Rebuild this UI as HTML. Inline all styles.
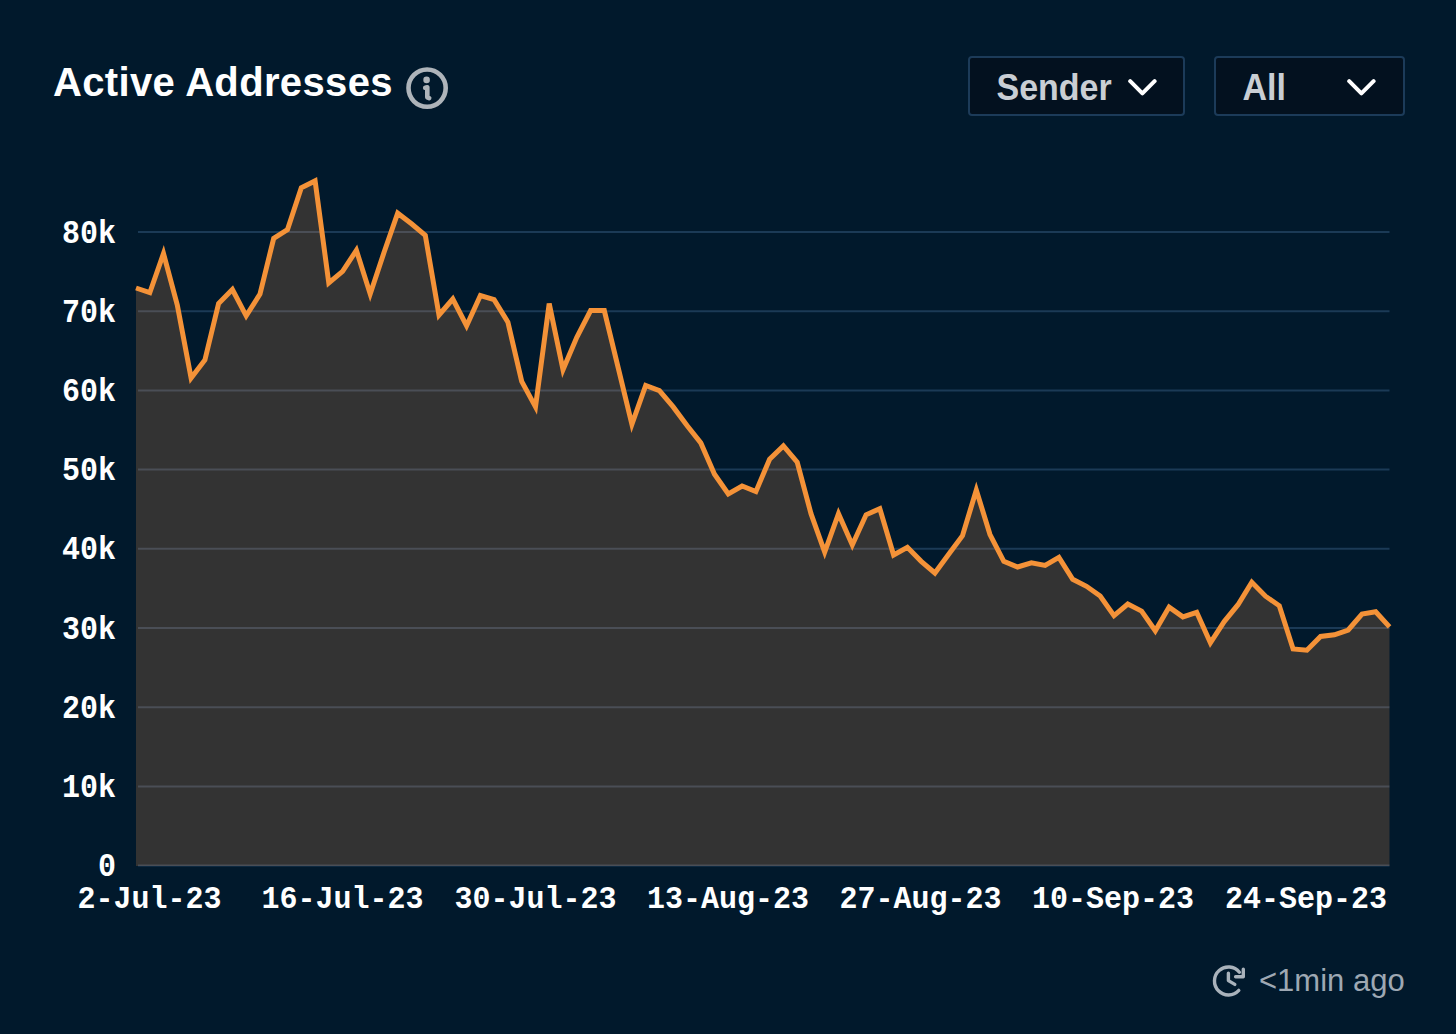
<!DOCTYPE html>
<html><head><meta charset="utf-8">
<style>
html,body{margin:0;padding:0;}
body{width:1456px;height:1034px;background:#01192c;position:relative;overflow:hidden;font-family:"Liberation Sans",sans-serif;}
.title{position:absolute;left:53px;top:58px;font-size:40px;font-weight:bold;color:#ffffff;letter-spacing:0.35px;line-height:48px;white-space:nowrap;}
.info{position:absolute;left:405px;top:66px;}
.dd{position:absolute;top:56px;height:60px;box-sizing:border-box;border:2px solid #1c3b59;border-radius:4px;background:#03111f;}
.dd .t{position:absolute;top:2px;line-height:57px;font-size:34px;font-weight:bold;color:#c9ced4;white-space:nowrap;overflow:hidden;transform:scaleY(1.1);transform-origin:0 43px;}
.dd svg{position:absolute;}
svg.chart{position:absolute;left:0;top:0;}
.yl{position:absolute;right:1340px;width:100px;text-align:right;font-family:"Liberation Mono",monospace;font-weight:bold;font-size:30px;line-height:32px;color:#ffffff;transform:scaleY(1.09);transform-origin:50% 24px;}
.xl{position:absolute;top:884px;width:200px;text-align:center;font-family:"Liberation Mono",monospace;font-weight:bold;font-size:30px;line-height:32px;color:#ffffff;transform:scaleY(1.06);transform-origin:50% 24px;}
.foot{position:absolute;left:1259px;top:963px;font-size:31px;color:#9ea8b3;line-height:36px;white-space:nowrap;}
.ficon{position:absolute;left:1200px;top:955px;}
</style></head><body>
<div class="title">Active Addresses</div>
<svg class="info" width="44" height="44" viewBox="0 0 44 44"><circle cx="22.1" cy="22.1" r="18.6" fill="none" stroke="#aeb4ba" stroke-width="4.6"/><circle cx="21.6" cy="13.9" r="3.3" fill="#aeb4ba"/><path d="M20.2 21.7 L22.3 21.3 L22.3 31.3 L24.2 32.1" fill="none" stroke="#aeb4ba" stroke-width="4.6" stroke-linejoin="round" stroke-linecap="round"/></svg>
<div class="dd" style="left:968px;width:217px;"><div class="t" style="left:26.5px;width:117.5px;">Sender</div>
<svg style="left:157.5px;top:20.6px" width="30" height="20" viewBox="0 0 30 20"><path d="M2.2 2.2 L14.4 14.4 L26.6 2.2" fill="none" stroke="#ffffff" stroke-width="4" stroke-linecap="round" stroke-linejoin="round"/></svg></div>
<div class="dd" style="left:1214px;width:191px;"><div class="t" style="left:26.5px;">All</div>
<svg style="left:131.4px;top:20.6px" width="30" height="20" viewBox="0 0 30 20"><path d="M2.2 2.2 L14.4 14.4 L26.6 2.2" fill="none" stroke="#ffffff" stroke-width="4" stroke-linecap="round" stroke-linejoin="round"/></svg></div>
<svg class="chart" width="1456" height="1034">
<defs><clipPath id="ca"><path d="M136,866 L136.0,288.0 L149.8,292.7 L163.5,253.5 L177.3,305.0 L191.1,378.0 L204.9,360.0 L218.6,303.4 L232.4,289.5 L246.2,315.8 L260.0,294.0 L273.7,238.3 L287.5,229.6 L301.3,187.8 L315.1,180.9 L328.8,283.0 L342.6,271.4 L356.4,250.3 L370.2,294.0 L383.9,252.8 L397.7,213.2 L411.5,223.8 L425.3,235.4 L439.0,315.0 L452.8,299.0 L466.6,325.7 L480.4,295.5 L494.1,299.7 L507.9,322.2 L521.7,381.4 L535.5,406.9 L549.2,303.6 L563.0,369.8 L576.8,337.3 L590.6,310.6 L604.3,310.6 L618.1,367.4 L631.9,424.3 L645.7,385.5 L659.4,390.6 L673.2,406.9 L687.0,425.5 L700.8,442.9 L714.5,474.2 L728.3,494.0 L742.1,486.0 L755.9,491.6 L769.6,459.2 L783.4,446.0 L797.2,462.2 L811.0,513.7 L824.7,552.0 L838.5,513.7 L852.3,545.0 L866.1,514.8 L879.8,508.6 L893.6,555.0 L907.4,547.3 L921.2,561.3 L934.9,573.0 L948.7,554.3 L962.5,535.7 L976.3,490.0 L990.0,534.6 L1003.8,561.3 L1017.6,567.0 L1031.4,562.8 L1045.1,565.4 L1058.9,557.4 L1072.7,579.3 L1086.5,586.3 L1100.2,596.0 L1114.0,615.7 L1127.8,604.1 L1141.6,611.1 L1155.3,630.8 L1169.1,607.1 L1182.9,616.9 L1196.7,612.3 L1210.4,642.8 L1224.2,621.6 L1238.0,604.7 L1251.8,582.3 L1265.5,596.2 L1279.3,605.7 L1293.1,648.9 L1306.9,650.2 L1320.6,636.5 L1334.4,634.8 L1348.2,630.0 L1362.0,614.1 L1375.7,611.7 L1389.5,626.9 L1389.5,866 Z"/></clipPath></defs>
<g stroke="#1b3a56" stroke-width="2"><line x1="138" x2="1389.5" y1="232.0" y2="232.0" /><line x1="138" x2="1389.5" y1="311.2" y2="311.2" /><line x1="138" x2="1389.5" y1="390.4" y2="390.4" /><line x1="138" x2="1389.5" y1="469.6" y2="469.6" /><line x1="138" x2="1389.5" y1="548.8" y2="548.8" /><line x1="138" x2="1389.5" y1="628.0" y2="628.0" /><line x1="138" x2="1389.5" y1="707.2" y2="707.2" /><line x1="138" x2="1389.5" y1="786.4" y2="786.4" /><line x1="138" x2="1389.5" y1="865.6" y2="865.6" /></g>
<path d="M136,866 L136.0,288.0 L149.8,292.7 L163.5,253.5 L177.3,305.0 L191.1,378.0 L204.9,360.0 L218.6,303.4 L232.4,289.5 L246.2,315.8 L260.0,294.0 L273.7,238.3 L287.5,229.6 L301.3,187.8 L315.1,180.9 L328.8,283.0 L342.6,271.4 L356.4,250.3 L370.2,294.0 L383.9,252.8 L397.7,213.2 L411.5,223.8 L425.3,235.4 L439.0,315.0 L452.8,299.0 L466.6,325.7 L480.4,295.5 L494.1,299.7 L507.9,322.2 L521.7,381.4 L535.5,406.9 L549.2,303.6 L563.0,369.8 L576.8,337.3 L590.6,310.6 L604.3,310.6 L618.1,367.4 L631.9,424.3 L645.7,385.5 L659.4,390.6 L673.2,406.9 L687.0,425.5 L700.8,442.9 L714.5,474.2 L728.3,494.0 L742.1,486.0 L755.9,491.6 L769.6,459.2 L783.4,446.0 L797.2,462.2 L811.0,513.7 L824.7,552.0 L838.5,513.7 L852.3,545.0 L866.1,514.8 L879.8,508.6 L893.6,555.0 L907.4,547.3 L921.2,561.3 L934.9,573.0 L948.7,554.3 L962.5,535.7 L976.3,490.0 L990.0,534.6 L1003.8,561.3 L1017.6,567.0 L1031.4,562.8 L1045.1,565.4 L1058.9,557.4 L1072.7,579.3 L1086.5,586.3 L1100.2,596.0 L1114.0,615.7 L1127.8,604.1 L1141.6,611.1 L1155.3,630.8 L1169.1,607.1 L1182.9,616.9 L1196.7,612.3 L1210.4,642.8 L1224.2,621.6 L1238.0,604.7 L1251.8,582.3 L1265.5,596.2 L1279.3,605.7 L1293.1,648.9 L1306.9,650.2 L1320.6,636.5 L1334.4,634.8 L1348.2,630.0 L1362.0,614.1 L1375.7,611.7 L1389.5,626.9 L1389.5,866 Z" fill="#333333"/>
<g stroke="#4a4e56" stroke-width="2" clip-path="url(#ca)"><line x1="138" x2="1389.5" y1="232.0" y2="232.0" /><line x1="138" x2="1389.5" y1="311.2" y2="311.2" /><line x1="138" x2="1389.5" y1="390.4" y2="390.4" /><line x1="138" x2="1389.5" y1="469.6" y2="469.6" /><line x1="138" x2="1389.5" y1="548.8" y2="548.8" /><line x1="138" x2="1389.5" y1="628.0" y2="628.0" /><line x1="138" x2="1389.5" y1="707.2" y2="707.2" /><line x1="138" x2="1389.5" y1="786.4" y2="786.4" /><line x1="138" x2="1389.5" y1="865.6" y2="865.6" /></g>
<polyline points="136.0,288.0 149.8,292.7 163.5,253.5 177.3,305.0 191.1,378.0 204.9,360.0 218.6,303.4 232.4,289.5 246.2,315.8 260.0,294.0 273.7,238.3 287.5,229.6 301.3,187.8 315.1,180.9 328.8,283.0 342.6,271.4 356.4,250.3 370.2,294.0 383.9,252.8 397.7,213.2 411.5,223.8 425.3,235.4 439.0,315.0 452.8,299.0 466.6,325.7 480.4,295.5 494.1,299.7 507.9,322.2 521.7,381.4 535.5,406.9 549.2,303.6 563.0,369.8 576.8,337.3 590.6,310.6 604.3,310.6 618.1,367.4 631.9,424.3 645.7,385.5 659.4,390.6 673.2,406.9 687.0,425.5 700.8,442.9 714.5,474.2 728.3,494.0 742.1,486.0 755.9,491.6 769.6,459.2 783.4,446.0 797.2,462.2 811.0,513.7 824.7,552.0 838.5,513.7 852.3,545.0 866.1,514.8 879.8,508.6 893.6,555.0 907.4,547.3 921.2,561.3 934.9,573.0 948.7,554.3 962.5,535.7 976.3,490.0 990.0,534.6 1003.8,561.3 1017.6,567.0 1031.4,562.8 1045.1,565.4 1058.9,557.4 1072.7,579.3 1086.5,586.3 1100.2,596.0 1114.0,615.7 1127.8,604.1 1141.6,611.1 1155.3,630.8 1169.1,607.1 1182.9,616.9 1196.7,612.3 1210.4,642.8 1224.2,621.6 1238.0,604.7 1251.8,582.3 1265.5,596.2 1279.3,605.7 1293.1,648.9 1306.9,650.2 1320.6,636.5 1334.4,634.8 1348.2,630.0 1362.0,614.1 1375.7,611.7 1389.5,626.9" fill="none" stroke="#f49238" stroke-width="5" stroke-linejoin="miter" stroke-miterlimit="4"/>
</svg>
<div class="yl" style="top:218.5px">80k</div><div class="yl" style="top:297.7px">70k</div><div class="yl" style="top:376.9px">60k</div><div class="yl" style="top:456.1px">50k</div><div class="yl" style="top:535.3px">40k</div><div class="yl" style="top:614.5px">30k</div><div class="yl" style="top:693.7px">20k</div><div class="yl" style="top:772.9px">10k</div><div class="yl" style="top:852.1px">0</div>
<div class="xl" style="left:49.5px">2-Jul-23</div><div class="xl" style="left:242.5px">16-Jul-23</div><div class="xl" style="left:435.5px">30-Jul-23</div><div class="xl" style="left:628.0px">13-Aug-23</div><div class="xl" style="left:820.5px">27-Aug-23</div><div class="xl" style="left:1013.0px">10-Sep-23</div><div class="xl" style="left:1206.0px">24-Sep-23</div>
<svg class="ficon" width="60" height="50" viewBox="0 0 60 50"><g fill="none" stroke="#a9b2bb" stroke-width="3.4" stroke-linecap="round" stroke-linejoin="round"><path d="M38.8 35.4 A14 14 0 1 1 39.4 17.2"/><path d="M43.3 14.2 V21.8 H35.6"/><path d="M28.4 18.2 V25.6 L34.8 29.4"/></g></svg>
<div class="foot">&lt;1min ago</div>
</body></html>
